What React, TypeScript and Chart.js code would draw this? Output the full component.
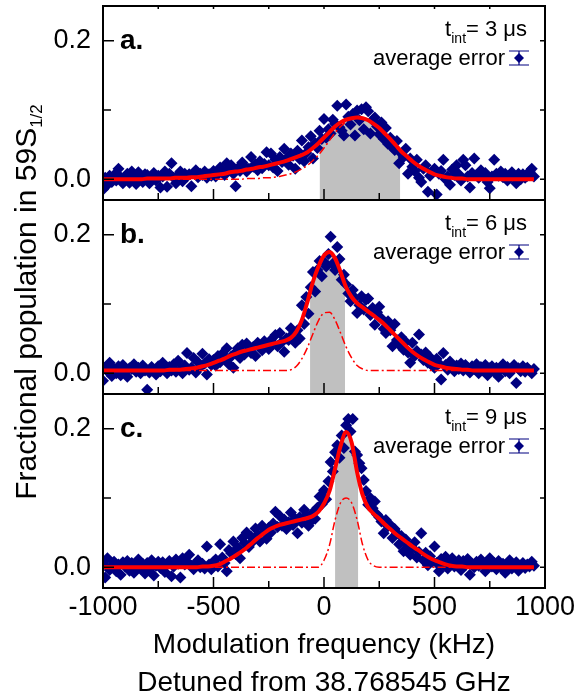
import React, { useEffect, useRef } from 'react';
import { Chart, registerables } from 'chart.js';

Chart.register(...registerables);

const FONT = "'Liberation Sans', Arial, Helvetica, sans-serif";

// Measured modulation frequencies (kHz)
const freqs = [
  -1000, -990, -980, -970, -960, -950, -940, -930, -920, -910,
  -900, -890, -880, -870, -860, -850, -840, -830, -820, -810,
  -800, -790, -780, -770, -760, -750, -740, -730, -720, -710,
  -700, -690, -680, -670, -660, -650, -640, -630, -620, -610,
  -600, -590, -580, -570, -560, -550, -540, -530, -520, -510,
  -500, -490, -480, -470, -460, -450, -440, -430, -420, -410,
  -400, -390, -380, -370, -360, -350, -340, -330, -320, -310,
  -300, -290, -280, -270, -260, -250, -240, -230, -220, -210,
  -200, -190, -180, -170, -160, -150, -140, -130, -120, -110,
  -100, -90, -80, -70, -60, -50, -40, -30, -20, -10,
  0, 10, 20, 30, 40, 50, 60, 70, 80, 90,
  100, 110, 120, 130, 140, 150, 160, 170, 180, 190,
  200, 210, 220, 230, 240, 250, 260, 270, 280, 290,
  300, 310, 320, 330, 340, 350, 360, 370, 380, 390,
  400, 410, 420, 430, 440, 450, 460, 470, 480, 490,
  500, 510, 520, 530, 540, 550, 560, 570, 580, 590,
  600, 610, 620, 630, 640, 650, 660, 670, 680, 690,
  700, 710, 720, 730, 740, 750, 760, 770, 780, 790,
  800, 810, 820, 830, 840, 850, 860, 870, 880, 890,
  900, 910, 920, 930, 940, 950,
];

// Panel a: t_int = 3 us
const popA = [
  -0.015, 0.002, -0.008, 0.005, -0.004, 0.006, -0.002, 0.015, 0.003, -0.006,
  0.000, 0.008, -0.005, 0.011, 0.004, -0.007, 0.010, 0.002, -0.004, 0.007,
  0.006, -0.006, 0.003, 0.009, -0.002, 0.005, -0.012, 0.004, 0.011, -0.011,
  0.008, 0.023, 0.002, -0.006, 0.006, 0.011, -0.003, 0.008, 0.004, 0.007,
  -0.010, 0.009, 0.013, 0.003, 0.008, 0.006, 0.011, 0.002, 0.007, 0.005,
  0.012, 0.004, 0.009, 0.017, 0.010, 0.006, 0.023, 0.014, 0.020, 0.008,
  -0.010, 0.016, 0.012, 0.024, 0.019, 0.011, 0.015, 0.032, 0.018, 0.022,
  0.013, 0.026, 0.016, 0.022, 0.039, 0.020, 0.037, 0.017, 0.028, 0.012,
  0.032, 0.025, 0.044, 0.030, 0.021, 0.037, 0.034, 0.015, 0.041, 0.029,
  0.056, 0.026, 0.038, 0.046, 0.062, 0.030, 0.052, 0.045, 0.070, 0.058,
  0.087, 0.060, 0.072, 0.066, 0.086, 0.080, 0.106, 0.075, 0.070, 0.063,
  0.108, 0.090, 0.079, 0.094, 0.063, 0.099, 0.085, 0.101, 0.072, 0.104,
  0.098, 0.066, 0.085, 0.089, 0.076, 0.065, 0.082, 0.058, 0.074, 0.051,
  0.060, 0.046, 0.042, 0.055, 0.023, 0.037, 0.032, 0.044, 0.008, 0.030,
  0.018, 0.012, 0.028, 0.002, -0.004, 0.015, 0.020, -0.018, 0.005, 0.011,
  0.015, -0.022, 0.008, 0.012, 0.028, 0.000, 0.004, -0.008, 0.014, 0.006,
  0.020, 0.007, -0.002, 0.028, 0.020, 0.004, -0.012, 0.009, 0.030, 0.006,
  0.002, 0.013, 0.006, 0.009, -0.004, -0.013, 0.004, 0.028, 0.008, 0.005,
  0.011, 0.003, 0.008, -0.002, 0.006, 0.010, 0.004, -0.006, 0.008, 0.000,
  0.007, 0.002, 0.005, 0.011, 0.015, 0.004,
];

// Panel b: t_int = 6 us
const popB = [
  -0.011, 0.008, 0.003, 0.015, -0.004, 0.006, 0.000, 0.010, -0.003, 0.012,
  0.004, -0.005, 0.007, 0.006, 0.013, 0.002, 0.008, 0.000, 0.011, 0.004,
  -0.024, 0.001, 0.009, 0.005, -0.002, 0.010, 0.003, 0.015, 0.007, 0.000,
  0.009, 0.004, 0.013, 0.002, 0.018, 0.006, 0.000, 0.011, 0.029, 0.005,
  0.008, 0.022, 0.001, 0.016, 0.009, 0.028, 0.014, -0.002, 0.020, 0.012,
  0.019, 0.011, 0.025, 0.016, 0.028, 0.021, 0.036, 0.013, 0.024, 0.008,
  0.030, 0.036, 0.022, 0.041, 0.027, 0.043, 0.034, 0.029, 0.038, 0.025,
  0.044, 0.037, 0.033, 0.046, 0.040, 0.035, 0.048, 0.042, 0.055, 0.039,
  0.058, 0.045, 0.031, 0.050, 0.048, 0.065, 0.057, 0.044, 0.062, 0.050,
  0.098, 0.071, 0.110, 0.086, 0.124, 0.146, 0.118, 0.149, 0.162, 0.140,
  0.161, 0.154, 0.172, 0.197, 0.158, 0.149, 0.182, 0.165, 0.135, 0.142,
  0.128, 0.115, 0.104, 0.120, 0.109, 0.087, 0.098, 0.111, 0.092, 0.106,
  0.108, 0.084, 0.094, 0.070, 0.088, 0.096, 0.079, 0.064, 0.058, 0.075,
  0.062, 0.039, 0.071, 0.048, 0.041, 0.052, 0.034, 0.045, 0.030, 0.015,
  0.044, 0.025, 0.032, 0.056, 0.027, 0.019, 0.030, 0.015, 0.023, 0.011,
  0.008, 0.021, 0.014, -0.009, 0.029, 0.012, 0.005, 0.017, 0.010, 0.003,
  0.011, 0.006, 0.014, 0.004, 0.012, 0.008, 0.001, 0.010, 0.006, 0.013,
  0.000, 0.009, 0.004, 0.012, -0.003, 0.007, 0.010, 0.002, 0.008, -0.005,
  0.006, 0.013, 0.003, 0.009, 0.000, 0.005, 0.012, -0.014, 0.007, 0.003,
  0.010, 0.002, 0.008, 0.004, 0.000, 0.006,
];

// Panel c: t_int = 9 us
const popC = [
  0.005, -0.015, 0.013, -0.004, 0.002, 0.008, -0.006, 0.004, -0.011, 0.007,
  0.001, 0.009, -0.005, 0.006, -0.008, 0.003, 0.011, -0.002, 0.005, -0.009,
  0.006, -0.003, 0.010, -0.012, 0.002, 0.008, -0.001, 0.007, -0.007, 0.004,
  0.009, -0.013, 0.001, 0.011, 0.005, -0.015, 0.013, 0.004, 0.008, 0.018,
  0.002, -0.003, 0.006, 0.010, 0.000, 0.005, -0.002, 0.030, 0.004, -0.003,
  0.008, 0.011, 0.001, 0.033, 0.014, 0.006, -0.006, 0.025, 0.020, 0.037,
  0.019, 0.028, 0.013, 0.042, 0.035, 0.050, 0.029, 0.044, 0.038, 0.056,
  0.047, 0.037, 0.060, 0.052, 0.041, 0.057, 0.050, 0.063, 0.080, 0.058,
  0.074, 0.060, 0.069, 0.055, 0.065, 0.079, 0.061, 0.070, 0.049, 0.072,
  0.064, 0.083, 0.075, 0.060, 0.066, 0.079, 0.070, 0.086, 0.102, 0.091,
  0.111, 0.098, 0.124, 0.152, 0.138, 0.166, 0.176, 0.158, 0.190, 0.172,
  0.205, 0.214, 0.196, 0.214, 0.167, 0.162, 0.150, 0.143, 0.126, 0.110,
  0.090, 0.100, 0.085, 0.095, 0.076, 0.072, 0.066, 0.049, 0.068, 0.059,
  0.061, 0.042, 0.055, 0.049, 0.033, 0.045, 0.023, 0.040, 0.031, 0.018,
  0.028, 0.036, 0.014, 0.022, 0.049, 0.010, 0.021, 0.003, 0.016, 0.008,
  0.030, 0.006, -0.006, 0.012, 0.004, 0.015, -0.002, 0.008, 0.013, 0.001,
  0.006, 0.010, -0.004, 0.009, 0.003, 0.012, -0.011, 0.005, 0.000, 0.008,
  0.002, 0.011, 0.004, -0.006, 0.007, 0.013, 0.001, 0.006, -0.003, 0.009,
  0.000, 0.005, -0.008, 0.004, 0.010, -0.002, 0.003, 0.007, -0.005, 0.002,
  0.006, -0.001, 0.004, 0.001, 0.008, 0.002,
];

// Fit curves sampled every 25 kHz
const fitFreqs = [
  -1000, -975, -950, -925, -900, -875, -850, -825, -800, -775,
  -750, -725, -700, -675, -650, -625, -600, -575, -550, -525,
  -500, -475, -450, -425, -400, -375, -350, -325, -300, -275,
  -250, -225, -200, -175, -150, -125, -100, -75, -50, -25,
  0, 25, 50, 75, 100, 125, 150, 175, 200, 225,
  250, 275, 300, 325, 350, 375, 400, 425, 450, 475,
  500, 525, 550, 575, 600, 625, 650, 675, 700, 725,
  750, 775, 800, 825, 850, 875, 900, 925, 950,
];

const fitA = [
  0.000, 0.000, 0.000, 0.000, 0.000, 0.000, 0.000, 0.000, 0.001, 0.001,
  0.001, 0.001, 0.001, 0.002, 0.002, 0.002, 0.003, 0.003, 0.004, 0.005,
  0.006, 0.007, 0.008, 0.010, 0.011, 0.012, 0.014, 0.015, 0.017, 0.018,
  0.020, 0.022, 0.024, 0.026, 0.029, 0.032, 0.035, 0.039, 0.045, 0.052,
  0.060, 0.068, 0.076, 0.082, 0.086, 0.088, 0.089, 0.088, 0.085, 0.080,
  0.074, 0.066, 0.058, 0.049, 0.040, 0.033, 0.026, 0.020, 0.015, 0.011,
  0.007, 0.005, 0.003, 0.002, 0.001, 0.001, 0.000, 0.000, 0.000, 0.000,
  0.000, 0.000, 0.000, 0.000, 0.000, 0.000, 0.000, 0.000, 0.000,
];
const compA = [
  0.000, 0.000, 0.000, 0.000, 0.000, 0.000, 0.000, 0.000, 0.000, 0.000,
  0.000, 0.000, 0.000, 0.000, 0.000, 0.000, 0.000, 0.000, 0.000, 0.000,
  0.000, 0.000, 0.000, 0.000, 0.000, 0.000, 0.001, 0.001, 0.001, 0.002,
  0.002, 0.003, 0.004, 0.006, 0.008, 0.011, 0.015, 0.020, 0.027, 0.035,
  0.045, 0.056, 0.067, 0.076, 0.083, 0.087, 0.089, 0.088, 0.085, 0.080,
  0.074, 0.066, 0.058, 0.049, 0.040, 0.033, 0.026, 0.020, 0.015, 0.011,
  0.007, 0.005, 0.003, 0.002, 0.001, 0.001, 0.000, 0.000, 0.000, 0.000,
  0.000, 0.000, 0.000, 0.000, 0.000, 0.000, 0.000, 0.000, 0.000,
];
const fitB = [
  0.004, 0.004, 0.004, 0.004, 0.004, 0.004, 0.004, 0.004, 0.004, 0.004,
  0.004, 0.004, 0.005, 0.005, 0.005, 0.006, 0.007, 0.008, 0.010, 0.012,
  0.015, 0.018, 0.021, 0.025, 0.028, 0.031, 0.033, 0.035, 0.037, 0.039,
  0.041, 0.043, 0.045, 0.047, 0.051, 0.060, 0.077, 0.103, 0.132, 0.154,
  0.170, 0.175, 0.166, 0.146, 0.124, 0.110, 0.101, 0.095, 0.089, 0.083,
  0.077, 0.070, 0.062, 0.054, 0.046, 0.038, 0.031, 0.025, 0.020, 0.016,
  0.012, 0.010, 0.008, 0.007, 0.006, 0.005, 0.005, 0.004, 0.004, 0.004,
  0.004, 0.004, 0.004, 0.004, 0.004, 0.004, 0.004, 0.004, 0.004,
];
const compB = [
  0.004, 0.004, 0.004, 0.004, 0.004, 0.004, 0.004, 0.004, 0.004, 0.004,
  0.004, 0.004, 0.004, 0.004, 0.004, 0.004, 0.004, 0.004, 0.004, 0.004,
  0.004, 0.004, 0.004, 0.004, 0.004, 0.004, 0.004, 0.004, 0.004, 0.004,
  0.004, 0.004, 0.004, 0.004, 0.005, 0.010, 0.021, 0.037, 0.057, 0.076,
  0.087, 0.088, 0.077, 0.058, 0.038, 0.022, 0.011, 0.006, 0.004, 0.004,
  0.004, 0.004, 0.004, 0.004, 0.004, 0.004, 0.004, 0.004, 0.004, 0.004,
  0.004, 0.004, 0.004, 0.004, 0.004, 0.004, 0.004, 0.004, 0.004, 0.004,
  0.004, 0.004, 0.004, 0.004, 0.004, 0.004, 0.004, 0.004, 0.004,
];
const fitC = [
  0.000, 0.000, 0.000, 0.000, 0.000, 0.000, 0.000, 0.000, 0.000, 0.000,
  0.000, 0.000, 0.000, 0.000, 0.000, 0.000, 0.000, 0.000, 0.001, 0.001,
  0.002, 0.004, 0.008, 0.012, 0.017, 0.022, 0.028, 0.035, 0.042, 0.048,
  0.054, 0.058, 0.061, 0.063, 0.065, 0.067, 0.069, 0.071, 0.074, 0.080,
  0.092, 0.110, 0.142, 0.175, 0.195, 0.180, 0.137, 0.104, 0.086, 0.077,
  0.070, 0.062, 0.055, 0.048, 0.042, 0.036, 0.030, 0.025, 0.019, 0.014,
  0.010, 0.007, 0.004, 0.002, 0.001, 0.001, 0.000, 0.000, 0.000, 0.000,
  0.000, 0.000, 0.000, 0.000, 0.000, 0.000, 0.000, 0.000, 0.000,
];
const compC = [
  0.000, 0.000, 0.000, 0.000, 0.000, 0.000, 0.000, 0.000, 0.000, 0.000,
  0.000, 0.000, 0.000, 0.000, 0.000, 0.000, 0.000, 0.000, 0.000, 0.000,
  0.000, 0.000, 0.000, 0.000, 0.000, 0.000, 0.000, 0.000, 0.000, 0.000,
  0.000, 0.000, 0.000, 0.000, 0.000, 0.000, 0.000, 0.000, 0.000, 0.000,
  0.010, 0.032, 0.068, 0.093, 0.100, 0.093, 0.068, 0.032, 0.010, 0.002,
  0.000, 0.000, 0.000, 0.000, 0.000, 0.000, 0.000, 0.000, 0.000, 0.000,
  0.000, 0.000, 0.000, 0.000, 0.000, 0.000, 0.000, 0.000, 0.000, 0.000,
  0.000, 0.000, 0.000, 0.000, 0.000, 0.000, 0.000, 0.000, 0.000,
];

// Shaded (grey) windows under the fit
const shadeAX = [-20, 0, 25, 50, 75, 100, 125, 150, 175, 200, 225, 250, 275, 300, 325, 345];
const shadeAY = [0.054, 0.060, 0.068, 0.076, 0.082, 0.086, 0.088, 0.089, 0.088, 0.085, 0.080, 0.074, 0.066, 0.058, 0.049, 0.042];
const shadeBX = [-63, -50, -25, 0, 25, 50, 75, 95];
const shadeBY = [0.117, 0.132, 0.154, 0.170, 0.175, 0.166, 0.146, 0.128];
const shadeCX = [50, 75, 100, 125, 150, 155];
const shadeCY = [0.142, 0.175, 0.195, 0.180, 0.137, 0.130];

const panelLabels = ['a.', 'b.', 'c.'];
const tIntUs = ['3', '6', '9'];
const panelIds = ['ya', 'yb', 'yc'];
const xTickValues = [-750, -500, -250, 0, 250, 500, 750];
const yTickValues = [0, 0.1, 0.2];

const pts = (xs: number[], ys: number[]) => xs.map((x, i) => ({ x, y: ys[i] }));

const panels = [
  { id: 'ya', pop: popA, fit: fitA, comp: compA, sx: shadeAX, sy: shadeAY },
  { id: 'yb', pop: popB, fit: fitB, comp: compB, sx: shadeBX, sy: shadeBY },
  { id: 'yc', pop: popC, fit: fitC, comp: compC, sx: shadeCX, sy: shadeCY },
];

const decorPlugin = {
  id: 'panelDecor',
  afterDatasetsDraw(chart: any) {
    const ctx = chart.ctx as CanvasRenderingContext2D;
    const xs = chart.scales.x;
    panelIds.forEach((id, i) => {
      const ys = chart.scales[id];
      const L = xs.left, R = xs.right, T = ys.top, B = ys.bottom;
      ctx.save();
      ctx.strokeStyle = '#000';
      ctx.lineWidth = 2;
      ctx.strokeRect(L, T, R - L, B - T);
      ctx.lineWidth = 1.5;
      ctx.beginPath();
      xTickValues.forEach((v) => {
        const px = xs.getPixelForValue(v);
        const len = v % 500 === 0 ? 11 : 7;
        ctx.moveTo(px, B);
        ctx.lineTo(px, B - len);
        if (i === 0) {
          ctx.moveTo(px, T);
          ctx.lineTo(px, T + 3);
        }
      });
      yTickValues.forEach((v) => {
        const py = ys.getPixelForValue(v);
        const len = Math.abs(v - 0.1) < 1e-9 ? 8 : 11;
        ctx.moveTo(L, py);
        ctx.lineTo(L + len, py);
        ctx.moveTo(R, py);
        ctx.lineTo(R - 5, py);
      });
      ctx.stroke();

      // panel label
      ctx.fillStyle = '#000';
      ctx.textBaseline = 'alphabetic';
      ctx.textAlign = 'left';
      ctx.font = `bold 28px ${FONT}`;
      ctx.fillText(panelLabels[i], L + 17, ys.getPixelForValue(0.2) + 8);

      // legend text
      const rx = R - 18;
      const main = `= ${tIntUs[i]} \u03bcs`;
      ctx.font = `22px ${FONT}`;
      const w1 = ctx.measureText('t').width;
      const w3 = ctx.measureText(main).width;
      ctx.font = `14px ${FONT}`;
      const w2 = ctx.measureText('int').width;
      const x0 = rx - w1 - w2 - w3;
      ctx.font = `22px ${FONT}`;
      ctx.fillText('t', x0, T + 30);
      ctx.font = `14px ${FONT}`;
      ctx.fillText('int', x0 + w1, T + 37);
      ctx.font = `22px ${FONT}`;
      ctx.fillText(main, x0 + w1 + w2, T + 30);
      ctx.textAlign = 'right';
      ctx.fillText('average error', R - 40, T + 59);

      // error symbol
      const cx = R - 26, cy = T + 52;
      ctx.strokeStyle = '#000080';
      ctx.lineWidth = 1.2;
      ctx.beginPath();
      ctx.moveTo(cx - 10, cy - 7); ctx.lineTo(cx + 10, cy - 7);
      ctx.moveTo(cx - 10, cy + 7); ctx.lineTo(cx + 10, cy + 7);
      ctx.moveTo(cx, cy - 7); ctx.lineTo(cx, cy + 7);
      ctx.stroke();
      ctx.fillStyle = '#000080';
      ctx.beginPath();
      ctx.moveTo(cx, cy - 5); ctx.lineTo(cx + 5, cy); ctx.lineTo(cx, cy + 5); ctx.lineTo(cx - 5, cy);
      ctx.closePath();
      ctx.fill();
      ctx.restore();
    });
  },
  afterDraw(chart: any) {
    const ctx = chart.ctx as CanvasRenderingContext2D;
    ctx.save();
    ctx.translate(36, 302);
    ctx.rotate(-Math.PI / 2);
    const mainT = 'Fractional population in 59S';
    ctx.font = `30px ${FONT}`;
    const w = ctx.measureText(mainT).width;
    ctx.font = `17px ${FONT}`;
    const ws = ctx.measureText('1/2').width;
    const start = -(w + ws) / 2;
    ctx.fillStyle = '#000';
    ctx.textAlign = 'left';
    ctx.textBaseline = 'alphabetic';
    ctx.font = `30px ${FONT}`;
    ctx.fillText(mainT, start, 0);
    ctx.font = `17px ${FONT}`;
    ctx.fillText('1/2', start + w, 6);
    ctx.restore();
  },
};

const yScale = () => ({
  type: 'linear',
  position: 'left',
  stack: 'panels',
  stackWeight: 1,
  min: -0.03,
  max: 0.25,
  afterFit: (s: any) => {
    s.width = 95;
    s.paddingTop = 0;
    s.paddingBottom = 0;
  },
  ticks: {
    stepSize: 0.1,
    includeBounds: false,
    padding: 12,
    color: '#000',
    font: { family: FONT, size: 27 },
    callback: (v: any) => (Math.abs(v - 0.1) < 1e-6 ? '' : Number(v).toFixed(1)),
  },
  grid: { display: false, drawTicks: false },
  border: { display: false },
});

export default function App() {
  const ref = useRef<HTMLCanvasElement>(null);
  useEffect(() => {
    const datasets: any[] = [];
    panels.forEach((p) => {
      datasets.push({
        data: pts(p.sx, p.sy), yAxisID: p.id, showLine: true, fill: 'start',
        backgroundColor: '#c0c0c0', borderColor: 'rgba(0,0,0,0)', borderWidth: 0,
        pointRadius: 0, cubicInterpolationMode: 'monotone', order: 4,
      });
      datasets.push({
        data: pts(freqs, p.pop), yAxisID: p.id, showLine: false,
        pointStyle: 'rectRot', pointRadius: 6, pointBorderWidth: 0,
        backgroundColor: '#000080', borderColor: '#000080', order: 3,
      });
      datasets.push({
        data: pts(fitFreqs, p.comp), yAxisID: p.id, showLine: true, fill: false,
        borderColor: '#ff0000', borderWidth: 1.5, borderDash: [8, 3, 2, 3],
        pointRadius: 0, cubicInterpolationMode: 'monotone', order: 2,
      });
      datasets.push({
        data: pts(fitFreqs, p.fit), yAxisID: p.id, showLine: true, fill: false,
        borderColor: '#ff0000', borderWidth: 4,
        pointRadius: 0, cubicInterpolationMode: 'monotone', order: 1,
      });
    });

    const chart = new Chart(ref.current as HTMLCanvasElement, {
      type: 'scatter',
      data: { datasets },
      options: {
        responsive: false,
        animation: false,
        devicePixelRatio: 1,
        layout: { padding: { left: 8, right: 36, top: 3, bottom: 0 } },
        plugins: { legend: { display: false }, tooltip: { enabled: false }, title: { display: false } },
        scales: {
          x: {
            type: 'linear',
            position: 'bottom',
            min: -1000,
            max: 1000,
            afterFit: (s: any) => {
              s.height = 110;
              s.paddingLeft = 0;
              s.paddingRight = 0;
            },
            ticks: {
              stepSize: 250,
              autoSkip: false,
              maxRotation: 0,
              padding: 3,
              color: '#000',
              font: { family: FONT, size: 27 },
              callback: (v: any) => (Number(v) % 500 === 0 ? String(v) : ''),
            },
            grid: { display: false, drawTicks: false },
            border: { display: false },
            title: {
              display: true,
              text: ['Modulation frequency (kHz)', 'Detuned from 38.768545 GHz'],
              color: '#000',
              font: { family: FONT, size: 28, lineHeight: 1.36 },
              padding: { top: 0, bottom: -4 },
            },
          },
          yc: yScale(),
          yb: yScale(),
          ya: yScale(),
        } as any,
      },
      plugins: [decorPlugin],
    } as any);
    return () => chart.destroy();
  }, []);
  return (
    <div style={{ position: 'absolute', left: 0, top: 0, width: 581, height: 698 }}>
      <canvas ref={ref} width={581} height={698} style={{ display: 'block', width: 581, height: 698 }} />
    </div>
  );
}
